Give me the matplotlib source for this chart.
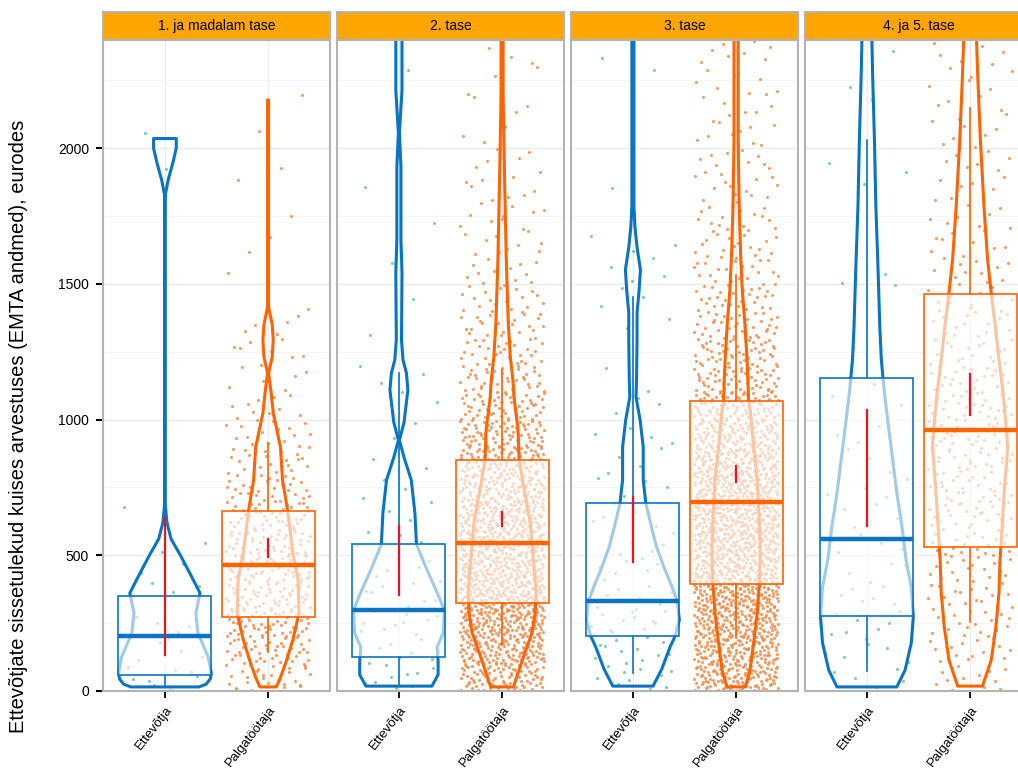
import numpy as np
import matplotlib
matplotlib.use("Agg")
import matplotlib.pyplot as plt
from matplotlib.patches import Rectangle

plt.rcParams['font.family'] = ['Liberation Sans', 'DejaVu Sans']

# Facets and categories
levels = ["1. ja madalam tase", "2. tase", "3. tase", "4. ja 5. tase"]
groups = ["Ettevõtja", "Palgatöötaja"]

# Box statistics (eurod), one value per facet
ent_q1 = [59, 125, 203, 276]
ent_med = [203, 298, 331, 560]
ent_q3 = [350, 541, 692, 1153]
ent_wlo = [22, 22, 66, 74]
ent_whi = [640, 1170, 1452, 2029]
ent_ci_lo = [133, 354, 475, 608]
ent_ci_hi = [637, 608, 715, 1035]

pal_q1 = [273, 324, 394, 530]
pal_med = [464, 545, 696, 961]
pal_q3 = [663, 851, 1068, 1462]
pal_wlo = [144, 169, 195, 254]
pal_whi = [913, 1182, 1532, 2147]
pal_ci_lo = [494, 608, 770, 1017]
pal_ci_hi = [560, 659, 829, 1168]

# Violin outlines: value and half-width (in category units)
ent_viol_y = [
    [15, 25, 45, 66, 125, 214, 287, 361, 435, 500, 560, 620, 700, 1820, 1880, 1950, 2000, 2035],
    [18, 60, 110, 162, 214, 298, 372, 457, 541, 656, 777, 860, 924, 990, 1109, 1171, 1219, 1293,
     1540, 1661, 1930, 2055, 2214, 2450],
    [18, 81, 162, 203, 262, 331, 383, 457, 530, 604, 692, 777, 899, 998, 1083, 1145, 1293, 1392,
     1477, 1551, 1635, 1709, 1783, 2450],
    [15, 77, 177, 273, 383, 482, 604, 729, 851, 972, 1098, 1219, 1341, 1466, 1587, 1783, 2029,
     2276, 2450],
]
ent_viol_w = [
    [0.33, 0.40, 0.44, 0.45, 0.42, 0.32, 0.30, 0.34, 0.24, 0.15, 0.06, 0.02, 0.0, 0.0, 0.03, 0.08,
     0.11, 0.11],
    [0.32, 0.38, 0.38, 0.37, 0.43, 0.44, 0.36, 0.26, 0.17, 0.155, 0.12, 0.05, 0.005, 0.05, 0.087,
     0.073, 0.04, 0.025, 0.03, 0.02, 0.02, 0.005, 0.03, 0.03],
    [0.195, 0.28, 0.36, 0.41, 0.45, 0.43, 0.38, 0.30, 0.23, 0.18, 0.125, 0.10, 0.10, 0.07, 0.03,
     0.035, 0.04, 0.04, 0.06, 0.073, 0.04, 0.02, 0.01, 0.01],
    [0.29, 0.37, 0.43, 0.45, 0.43, 0.38, 0.34, 0.29, 0.25, 0.21, 0.17, 0.14, 0.125, 0.115, 0.105,
     0.087, 0.073, 0.055, 0.045],
]
pal_viol_y = [
    [15, 50, 103, 188, 287, 409, 508, 663, 777, 899, 1024, 1097, 1171, 1230, 1293, 1350, 1414, 2177],
    [15, 66, 140, 214, 287, 361, 457, 545, 630, 729, 851, 961, 1083, 1145, 1230, 1355, 1477, 1598,
     1783, 1967, 2200, 2450],
    [15, 77, 162, 287, 394, 508, 630, 777, 899, 1024, 1072, 1145, 1230, 1355, 1477, 1598, 1783,
     2029, 2450],
    [18, 114, 236, 361, 482, 604, 729, 851, 899, 972, 1098, 1219, 1341, 1466, 1587, 1783, 2029,
     2276, 2450],
]
pal_viol_w = [
    [0.08, 0.12, 0.17, 0.24, 0.30, 0.29, 0.24, 0.19, 0.14, 0.12, 0.05, 0.03, 0.005, 0.04, 0.05,
     0.04, 0.005, 0.005],
    [0.11, 0.155, 0.22, 0.29, 0.32, 0.33, 0.31, 0.29, 0.27, 0.22, 0.165, 0.155, 0.115, 0.105, 0.08,
     0.06, 0.05, 0.04, 0.03, 0.02, 0.01, 0.01],
    [0.09, 0.135, 0.165, 0.205, 0.225, 0.235, 0.225, 0.205, 0.17, 0.14, 0.12, 0.115, 0.105, 0.085,
     0.06, 0.045, 0.03, 0.02, 0.02],
    [0.12, 0.205, 0.25, 0.28, 0.29, 0.31, 0.33, 0.355, 0.365, 0.35, 0.32, 0.28, 0.245, 0.205, 0.17,
     0.135, 0.10, 0.073, 0.058],
]

# Individual observations, counted per 100-euro band (0..2400)
bin_edges = np.arange(0, 2500, 100)
ent_counts = [
    [8, 6, 5, 4, 3, 2, 1, 0, 0, 0, 0, 0, 0, 0, 0, 0, 0, 0, 0, 1, 1, 0, 0, 0],
    [10, 9, 10, 8, 6, 5, 3, 3, 2, 2, 1, 4, 0, 1, 1, 1, 0, 1, 1, 0, 0, 0, 1, 0],
    [10, 12, 12, 10, 8, 6, 5, 4, 4, 4, 3, 2, 0, 2, 3, 4, 3, 0, 1, 0, 0, 0, 1, 1],
    [5, 6, 7, 6, 5, 5, 4, 4, 3, 3, 2, 1, 1, 0, 1, 2, 0, 0, 1, 2, 0, 1, 1, 1],
]
pal_counts = [
    [30, 45, 55, 55, 55, 48, 40, 30, 22, 16, 10, 6, 8, 6, 1, 1, 2, 1, 1, 1, 1, 1, 0, 0],
    [90, 120, 140, 150, 145, 140, 130, 110, 90, 75, 55, 40, 30, 25, 18, 12, 10, 10, 8, 6, 3, 3, 3, 3],
    [120, 130, 140, 150, 150, 150, 150, 140, 125, 100, 80, 60, 48, 38, 30, 22, 18, 15, 13, 11, 9, 8,
     8, 8],
    [12, 15, 18, 18, 18, 22, 25, 27, 28, 28, 28, 22, 18, 15, 13, 11, 9, 8, 8, 7, 7, 6, 6, 6],
]

BLUE = "#0A74C4"
ORANGE = "#FF6400"
TEAL = "#5CC39F"
SALMON = "#F5843F"
RED = "#EE1122"


def halton(k, base):
    f, r = 1.0, 0.0
    while k > 0:
        f /= base
        r += f * (k % base)
        k //= base
    return r


def jitter_points(counts, center, start):
    """Spread the counted observations over their band (deterministic jitter)."""
    xs, ys = [], []
    k = start
    for lo, n in zip(bin_edges[:-1], counts):
        for i in range(n):
            k += 1
            xs.append(center + 0.41 * (2 * halton(k, 2) - 1))
            ys.append(lo + 100 * halton(k, 3))
    return xs, ys


def draw_group(ax, c, color, pcolor, counts, vy, vw, q1, med, q3, wlo, whi, ci_lo, ci_hi, start):
    xs, ys = jitter_points(counts, c, start)
    ax.scatter(xs, ys, s=5, color=pcolor, alpha=0.8, linewidths=0, zorder=2)

    vy = np.array(vy)
    vw = np.array(vw)
    px = np.concatenate([c - vw, (c + vw)[::-1]])
    py = np.concatenate([vy, vy[::-1]])
    ax.fill(px, py, facecolor="none", edgecolor=color, lw=2.2, joinstyle="round", zorder=3)

    half = 0.45
    ax.add_patch(Rectangle((c - half, q1), 2 * half, q3 - q1, facecolor="white",
                           edgecolor="none", alpha=0.62, zorder=4))
    ax.add_patch(Rectangle((c - half, q1), 2 * half, q3 - q1, fill=False,
                           edgecolor=color, lw=1.2, zorder=5))
    ax.plot([c - half, c + half], [med, med], color=color, lw=3.2,
            solid_capstyle="butt", zorder=5)
    ax.plot([c, c], [q3, whi], color=color, lw=1.2, zorder=5)
    ax.plot([c, c], [wlo, q1], color=color, lw=1.2, zorder=5)
    ax.plot([c, c], [ci_lo, ci_hi], color=RED, lw=1.6, zorder=6)


W, H = 1018, 769
fig = plt.figure(figsize=(W / 100, H / 100), dpi=100)

panel_left = [103, 337, 571, 805]
panel_w = 227
top_px, bottom_px = 40, 691
strip_top = 12

for i, lev in enumerate(levels):
    ax = fig.add_axes([panel_left[i] / W, 1 - bottom_px / H, panel_w / W,
                       (bottom_px - top_px) / H])
    ax.set_xlim(0.4, 2.6)
    ax.set_ylim(0, 2398)
    ax.set_axisbelow(True)

    ax.set_yticks([0, 500, 1000, 1500, 2000])
    ax.set_yticks([250, 750, 1250, 1750, 2250], minor=True)
    ax.set_xticks([1, 2])
    ax.set_xticklabels(groups, rotation=52, ha="right", rotation_mode="anchor", fontsize=9.5)
    ax.grid(which="major", axis="y", color="#EBEBEB", lw=0.9)
    ax.grid(which="minor", axis="y", color="#F5F5F5", lw=0.7)
    ax.grid(which="major", axis="x", color="#EBEBEB", lw=0.9)

    ax.tick_params(axis="x", length=5, width=1.3, color="black", pad=4)
    ax.tick_params(axis="y", which="minor", left=False)
    if i == 0:
        ax.tick_params(axis="y", length=5, width=1.5, color="black", labelsize=10, pad=5)
    else:
        ax.tick_params(axis="y", left=False, labelleft=False)

    for sp in ax.spines.values():
        sp.set_color("#B3B3B3")
        sp.set_linewidth(1.5)

    draw_group(ax, 1, BLUE, TEAL, ent_counts[i], ent_viol_y[i], ent_viol_w[i],
               ent_q1[i], ent_med[i], ent_q3[i], ent_wlo[i], ent_whi[i],
               ent_ci_lo[i], ent_ci_hi[i], 17 * i + 3)
    draw_group(ax, 2, ORANGE, SALMON, pal_counts[i], pal_viol_y[i], pal_viol_w[i],
               pal_q1[i], pal_med[i], pal_q3[i], pal_wlo[i], pal_whi[i],
               pal_ci_lo[i], pal_ci_hi[i], 500 + 31 * i)

    # facet strip
    sax = fig.add_axes([panel_left[i] / W, 1 - top_px / H, panel_w / W,
                        (top_px - strip_top) / H])
    sax.set_facecolor("#FFA500")
    sax.set_xticks([])
    sax.set_yticks([])
    for sp in sax.spines.values():
        sp.set_color("#B3B3B3")
        sp.set_linewidth(1.5)
    sax.text(0.5, 0.5, lev, ha="center", va="center", fontsize=10, color="black",
             transform=sax.transAxes)

fig.text(0.018, 0.446, "Ettevõtjate sissetulekud kuises arvestuses (EMTA andmed), eurodes",
         rotation=90, ha="center", va="center", fontsize=14.5)

fig.savefig("out.png", dpi=100)
